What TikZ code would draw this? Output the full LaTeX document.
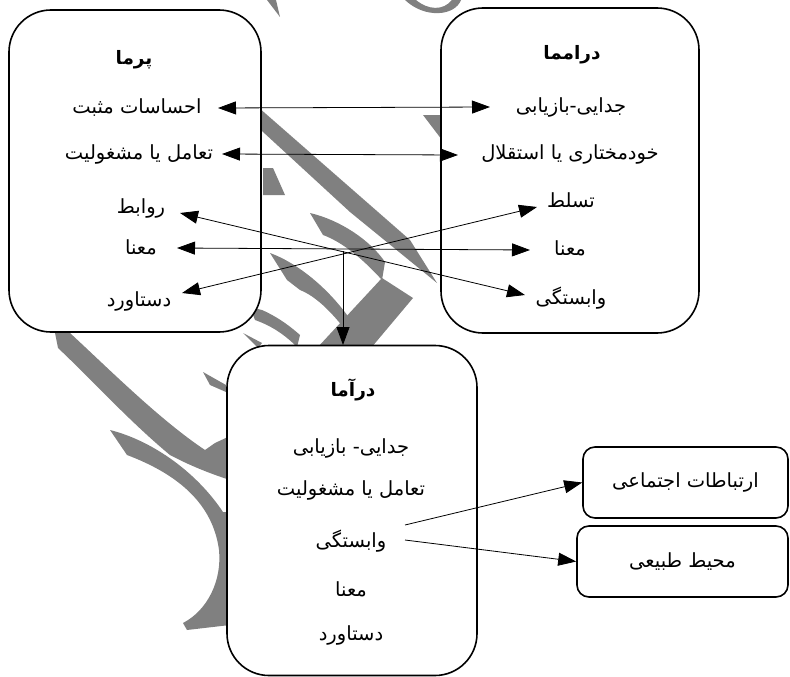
\documentclass[tikz,border=0pt]{standalone}
\usepackage{fontspec}
\usetikzlibrary{arrows.meta}
\TeXXeTstate=1
\newfontfamily\fa[Script=Arabic]{DejaVu Sans}
\definecolor{wm}{RGB}{128,128,128}
\tikzset{
  bigbox/.style={draw, line width=1.6pt, rounded corners=42pt, fill=white, inner sep=0pt},
  smallbox/.style={draw, line width=1.6pt, rounded corners=12pt, fill=white, inner sep=0pt},
  lbl/.style={font=\fa\fontsize{19.5}{22}\selectfont, inner sep=1pt},
  ttl/.style={font=\fa\bfseries\fontsize{18.5}{22}\selectfont, inner sep=1pt},
  conn/.style={line width=0.8pt, >={Triangle[length=18pt,width=13pt]}},
  wmark/.style={fill=wm, draw=none}
}
\newcommand\fatx[1]{\beginR #1\endR}
\begin{document}
\begin{tikzpicture}[x=1pt,y=-1pt]
\useasboundingbox (0,0) rectangle (790,677);
% watermark strokes (behind the boxes)
\fill[wmark] (250,100) -- (410,240) -- (437,283) -- (350,212) -- (250,120) -- cycle;
\fill[wmark] (263,168) -- (273,168) -- (285,195) -- (263,195) -- cycle;
\fill[wmark] (423,115) -- (442,115) -- (442,140) -- cycle;
\fill[wmark] (310,213) .. controls (340,220) and (370,240) .. (385,262) -- (382,280) .. controls (362,258) and (342,242) .. (323,235) -- cycle;
\fill[wmark] (382,278) -- (413,298) -- (371,348) -- (317,348) -- cycle;
\fill[wmark] (270,253) .. controls (295,262) and (325,285) .. (347,315) -- (347,332) .. controls (330,310) and (315,296) .. (300,290) -- (287,280) -- cycle;
\fill[wmark] (250,307) -- (262,310) .. controls (280,318) and (292,328) .. (300,335) -- (297,347) .. controls (285,335) and (272,326) .. (255,320) -- cycle;
\fill[wmark] (55,333) -- (70,333) .. controls (110,370) and (160,420) .. (205,450) -- (215,443) -- (230,436) -- (230,480) .. controls (205,472) and (185,463) .. (170,455) .. controls (130,422) and (90,378) .. (58,348) -- cycle;
\fill[wmark] (110,430) .. controls (150,440) and (195,470) .. (223,512) -- (230,512) -- (230,625) -- (187,630) -- (183,623) .. controls (208,610) and (222,580) .. (219,550) .. controls (213,505) and (180,475) .. (127,455) -- cycle;
\fill[wmark] (203,372) -- (226,385) -- (226,392) -- (210,385) -- cycle;
\fill[wmark] (243,333) -- (262,343) -- (258,348) -- cycle;
\fill[wmark] (267,0) -- (276,0) -- (280,17) -- cycle;
\fill[wmark] (405,0) -- (416,0) .. controls (428,10) and (443,11) .. (452,0) -- (461,0) .. controls (455,16) and (425,19) .. (405,0) -- cycle;
% boxes
\node[bigbox, minimum width=252pt, minimum height=322pt] (L) at (135,171) {};
\node[bigbox, minimum width=258pt, minimum height=325pt] (R) at (570,170.5) {};
\node[bigbox, minimum width=250pt, minimum height=330pt] (M) at (352,510.5) {};
\node[smallbox, minimum width=205pt, minimum height=71pt] (S1) at (685.5,482.5) {};
\node[smallbox, minimum width=211pt, minimum height=71pt] (S2) at (682.5,561.5) {};
% left box texts
\node[ttl] (Lt) at (134,60) {\fatx{پرما}};
\node[lbl] (L1) at (137,108) {\fatx{احساسات مثبت}};
\node[lbl] (L2) at (139,154) {\fatx{تعامل یا مشغولیت}};
\node[lbl] (L3) at (141,208) {\fatx{روابط}};
\node[lbl] (L4) at (141,247) {\fatx{معنا}};
\node[lbl] (L5) at (139,301) {\fatx{دستاورد}};
% right box texts
\node[ttl] (Rt) at (572,55) {\fatx{درامما}};
\node[lbl] (R1) at (571,107) {\fatx{جدایی-بازیابی}};
\node[lbl] (R2) at (570,154) {\fatx{خودمختاری یا استقلال}};
\node[lbl] (R3) at (571,200) {\fatx{تسلط}};
\node[lbl] (R4) at (570,248) {\fatx{معنا}};
\node[lbl] (R5) at (571,298) {\fatx{وابستگی}};
% middle box texts
\node[ttl] (Mt) at (353,390) {\fatx{درآما}};
\node[lbl] (M1) at (351,448) {\fatx{جدایی- بازیابی}};
\node[lbl] (M2) at (351,490) {\fatx{تعامل یا مشغولیت}};
\node[lbl] (M3) at (351,541) {\fatx{وابستگی}};
\node[lbl] (M4) at (351,589) {\fatx{معنا}};
\node[lbl] (M5) at (351,635) {\fatx{دستاورد}};
% small boxes texts
\node[lbl] (S1t) at (S1) {\fatx{ارتباطات اجتماعی}};
\node[lbl] (S2t) at (S2) {\fatx{محیط طبیعی}};
% arrow end points
\coordinate (pA1) at (218,108); \coordinate (dA1) at (490,107);
\coordinate (pA2) at (222,154); \coordinate (dA2) at (458,155);
\coordinate (pRel) at (180,213); \coordinate (dVab) at (525,295);
\coordinate (pMan) at (177,248); \coordinate (dMan) at (530,250);
\coordinate (pDast) at (182,293); \coordinate (dTas) at (537,207);
\coordinate (cross) at (343,251); \coordinate (mTop) at (343,345);
\coordinate (mV1) at (405,525); \coordinate (mV2) at (405,540);
% connectors
\draw[conn,<->] (pA1) -- (dA1);
\draw[conn,<->] (pA2) -- (dA2);
\draw[conn,<->] (pRel) -- (dVab);
\draw[conn,<->] (pMan) -- (dMan);
\draw[conn,<->] (pDast) -- (dTas);
\draw[conn,->] (cross) -- (mTop);
\draw[conn,->] (mV1) -- (S1.west);
\draw[conn,->] (mV2) -- (S2.west);
\end{tikzpicture}
\end{document}
